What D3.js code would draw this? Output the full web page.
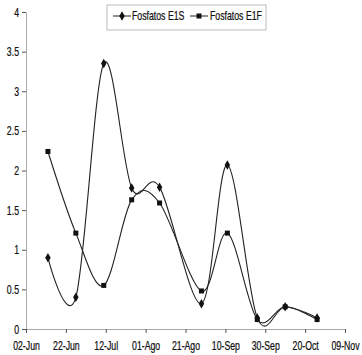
<!DOCTYPE html>
<html>
<head>
<meta charset="utf-8">
<script src="https://cdn.jsdelivr.net/npm/d3@7"></script>
<style>
body { margin: 0; background: #fff; }
svg text { font-family: "Liberation Sans Narrow", "Arial Narrow", "Liberation Sans", sans-serif; font-size: 12.5px; fill: #111; stroke: #111; stroke-width: 0.25px; }
</style>
</head>
<body>
<div id="chart"></div>
<script>
// sample dates (day offsets)
var sampleDates = ["2007-06-13", "2007-06-27", "2007-07-11", "2007-07-25", "2007-08-08",
                   "2007-08-29", "2007-09-11", "2007-09-26", "2007-10-10", "2007-10-26"];
var e1s = [0.90, 0.40, 3.35, 1.78, 1.79, 0.32, 2.07, 0.14, 0.28, 0.14];
var e1f = [2.24, 1.21, 0.55, 1.63, 1.59, 0.48, 1.21, 0.12, 0.28, 0.12];
var tickDates = ["2007-06-02", "2007-06-22", "2007-07-12", "2007-08-01", "2007-08-21",
                 "2007-09-10", "2007-09-30", "2007-10-20", "2007-11-09"];
var tickLabels = ["02-Jun", "22-Jun", "12-Jul", "01-Ago", "21-Ago", "10-Sep", "30-Sep", "20-Oct", "09-Nov"];
var yTicks = [0, 0.5, 1, 1.5, 2, 2.5, 3, 3.5, 4];
var seriesNames = ["Fosfatos E1S", "Fosfatos E1F"];

var width = 362, height = 355;
var parse = d3.timeParse("%Y-%m-%d");

var svg = d3.select("#chart").append("svg")
  .attr("width", width)
  .attr("height", height);

var x = d3.scaleTime()
  .domain([parse(tickDates[0]), parse(tickDates[tickDates.length - 1])])
  .range([26, 345]);
var y = d3.scaleLinear().domain([0, 4]).range([329, 12]);

// y axis
var yAxis = d3.axisLeft(y)
  .tickValues(yTicks)
  .tickSize(4)
  .tickPadding(3)
  .tickFormat(function(d) { return String(d); });
var gy = svg.append("g").attr("transform", "translate(26,0)").call(yAxis);
gy.select(".domain").attr("stroke", "#aaa");
gy.selectAll(".tick line").attr("stroke", "#555");
gy.selectAll("text").attr("font-size", 12.5);

// x axis
var xAxis = d3.axisBottom(x)
  .tickValues(tickDates.map(parse))
  .tickSize(4)
  .tickPadding(8)
  .tickFormat(function(d, i) { return tickLabels[i]; });
var gx = svg.append("g").attr("transform", "translate(0,329)").call(xAxis);
gx.select(".domain").attr("stroke", "#aaa");
gx.selectAll(".tick line").attr("stroke", "#555");
gx.selectAll("text").attr("font-size", 12.5);

var line = d3.line()
  .x(function(d) { return x(d.date); })
  .y(function(d) { return y(d.v); })
  .curve(d3.curveCardinal.tension(0));

function rows(vals) {
  return vals.map(function(v, i) { return {date: parse(sampleDates[i]), v: v}; });
}

var s1 = rows(e1s), s2 = rows(e1f);

svg.append("path").datum(s2)
  .attr("d", line).attr("fill", "none").attr("stroke", "#222").attr("stroke-width", 1.1);
svg.append("path").datum(s1)
  .attr("d", line).attr("fill", "none").attr("stroke", "#222").attr("stroke-width", 1.1);

var diamond = d3.symbol().type(d3.symbolDiamond).size(26);
svg.selectAll(".m1").data(s1).enter().append("path")
  .attr("class", "m1")
  .attr("d", diamond)
  .attr("transform", function(d) { return "translate(" + x(d.date) + "," + y(d.v) + ")"; })
  .attr("fill", "#111");

svg.selectAll(".m2").data(s2).enter().append("rect")
  .attr("class", "m2")
  .attr("x", function(d) { return x(d.date) - 2.5; })
  .attr("y", function(d) { return y(d.v) - 2.5; })
  .attr("width", 5).attr("height", 5)
  .attr("fill", "#111");

// legend
var lg = svg.append("g").attr("transform", "translate(107,5)");
lg.append("rect").attr("width", 159).attr("height", 25)
  .attr("fill", "#fff").attr("stroke", "#bbb").attr("stroke-width", 1);
lg.append("line").attr("x1", 6).attr("x2", 24).attr("y1", 11).attr("y2", 11).attr("stroke", "#222");
lg.append("path").attr("d", diamond).attr("transform", "translate(15,11)").attr("fill", "#111");
lg.append("text").attr("x", 25).attr("y", 15.5).text(seriesNames[0]);
lg.append("line").attr("x1", 83).attr("x2", 101).attr("y1", 11).attr("y2", 11).attr("stroke", "#222");
lg.append("rect").attr("x", 89.5).attr("y", 8.5).attr("width", 5).attr("height", 5).attr("fill", "#111");
lg.append("text").attr("x", 103).attr("y", 15.5).text(seriesNames[1]);

// narrow the text, the reference uses a condensed face
svg.selectAll("text").each(function() {
  var t = d3.select(this);
  var tx = +t.attr("x") || 0;
  t.attr("x", 0).attr("transform", "translate(" + tx + ",0) scale(0.7,1)");
});
</script>
</body>
</html>
